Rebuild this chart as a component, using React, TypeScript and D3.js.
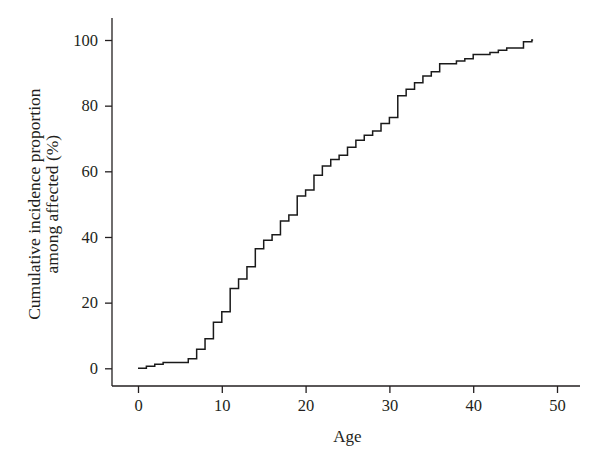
import { useEffect, useRef } from 'react'
import * as d3 from 'd3'

// step points: age at which the cumulative proportion changes, and the new value (%)
const ages = [0, 1, 2, 3, 6, 7, 8, 9, 10, 11, 12, 13, 14, 15, 16, 17, 18, 19, 20,
  21, 22, 23, 24, 25, 26, 27, 28, 29, 30, 31, 32, 33, 34, 35, 36, 38, 39, 40,
  42, 43, 44, 46, 47]
const cumPct = [0, 0.6, 1.2, 1.8, 2.9, 5.8, 9.0, 14.0, 17.2, 24.3, 27.2, 30.9, 36.4,
  39.0, 40.7, 44.9, 46.7, 52.5, 54.3, 58.8, 61.6, 63.6, 64.9, 67.3, 69.5, 71.0,
  72.3, 74.6, 76.4, 83.0, 85.0, 87.0, 89.0, 90.3, 92.8, 93.6, 94.3, 95.6, 96.2,
  96.9, 97.6, 99.5, 100]
const lastAge = 47.15

const xTicks = [0, 10, 20, 30, 40, 50]
const yTicks = [0, 20, 40, 60, 80, 100]

const yLabel = ['Cumulative incidence proportion', 'among affected (%)']
const xLabel = 'Age'

const Chart = () => {
  const ref = useRef<SVGSVGElement>(null)

  useEffect(() => {
    const w = 600
    const h = 468
    const svg = d3.select(ref.current)
      .attr('width', w)
      .attr('height', h)
      .style('background', '#fff')
    svg.selectAll('*').remove()

    const font = '"Liberation Serif", "Times New Roman", serif'
    const ink = '#231f20'

    const x = d3.scaleLinear().domain([0, 50]).range([138, 557])
    const y = d3.scaleLinear().domain([0, 100]).range([368.3, 40])

    const axisX = 112
    const axisY = 386

    // axis lines
    svg.append('line')
      .attr('x1', axisX).attr('x2', axisX)
      .attr('y1', 18).attr('y2', axisY)
      .attr('stroke', ink).attr('stroke-width', 1.3)
    svg.append('line')
      .attr('x1', axisX).attr('x2', 580)
      .attr('y1', axisY).attr('y2', axisY)
      .attr('stroke', ink).attr('stroke-width', 1.3)

    const gx = svg.append('g')
      .attr('transform', `translate(0, ${axisY})`)
      .call(d3.axisBottom(x).tickValues(xTicks).tickSize(7).tickPadding(6).tickSizeOuter(0))
    const gy = svg.append('g')
      .attr('transform', `translate(${axisX}, 0)`)
      .call(d3.axisLeft(y).tickValues(yTicks).tickSize(7).tickPadding(7).tickSizeOuter(0))

    for (const g of [gx, gy]) {
      g.select('.domain').remove()
      g.selectAll('line').attr('stroke', ink).attr('stroke-width', 1.3)
      g.selectAll('text')
        .attr('fill', ink)
        .style('font-family', font)
        .style('font-size', '16.5px')
    }

    // step curve
    const pts: [number, number][] = ages.map((a, i) => [a, cumPct[i]])
    pts.push([lastAge, cumPct[cumPct.length - 1]])
    const line = d3.line<[number, number]>()
      .x(d => x(d[0]))
      .y(d => y(d[1]))
      .curve(d3.curveStepAfter)
    svg.append('path')
      .datum(pts)
      .attr('d', line)
      .attr('fill', 'none')
      .attr('stroke', '#1a1a1a')
      .attr('stroke-width', 1.5)

    // axis titles
    svg.append('text')
      .attr('x', (x(0) + x(50)) / 2)
      .attr('y', 442)
      .attr('text-anchor', 'middle')
      .attr('fill', ink)
      .style('font-family', font)
      .style('font-size', '17px')
      .text(xLabel)

    const cy = (y(0) + y(100)) / 2
    yLabel.forEach((t, i) => {
      const lx = 40 + i * 18
      svg.append('text')
        .attr('transform', `translate(${lx}, ${cy}) rotate(-90)`)
        .attr('text-anchor', 'middle')
        .attr('fill', ink)
        .style('font-family', font)
        .style('font-size', '17.5px')
        .text(t)
    })
  }, [])

  return (
    <div style={{ position: 'absolute', left: 0, top: 0 }}>
      <svg ref={ref}></svg>
    </div>
  )
}

export default function App() {
  return <Chart />
}
